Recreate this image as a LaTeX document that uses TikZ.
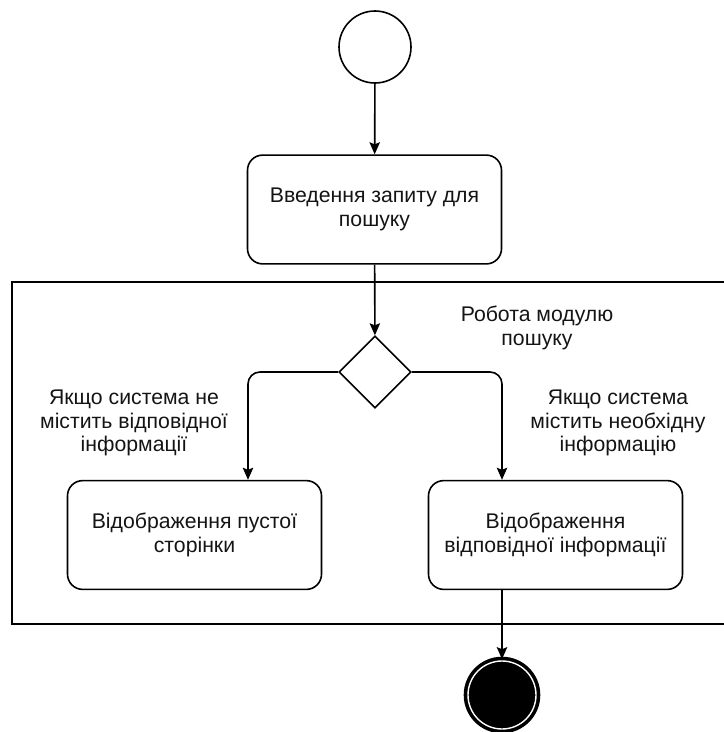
\documentclass[tikz,border=0pt]{standalone}
\usepackage{fontspec}
\setmainfont{Liberation Sans}
\usetikzlibrary{shapes.geometric,arrows.meta}

\definecolor{lineCol}{RGB}{0,0,0}
\definecolor{textCol}{RGB}{20,20,20}

\begin{document}
\begin{tikzpicture}[>={Stealth[length=0.3cm,width=0.26cm,inset=0.05cm]}, line width=0.04cm,
  every node/.style={font=\fontsize{15.1}{16.7}\selectfont, text=textCol},
  action/.style={draw=lineCol, rounded corners=0.38cm, minimum width=6.35cm, minimum height=2.72cm, align=center},
  note/.style={align=center},
  flow/.style={->, draw=lineCol, rounded corners=0.3cm}]
\useasboundingbox (0,0) rectangle (18.1,-18.3);
\node[draw=lineCol, circle, minimum size=1.8cm] (start) at (9.375,-1.175) {};
\node[action] (query) at (9.3625,-5.2375) {Введення запиту для\\пошуку};
% module frame, open on the right
\draw[draw=lineCol] (18.2,-7.05) -- (0.3,-7.05) -- (0.3,-15.6) -- (18.2,-15.6);
\node[note] (module) at (13.425,-8.2) {Робота модулю\\пошуку};
\node[draw=lineCol, diamond, aspect=1, minimum size=1.8cm, inner sep=0pt] (dec) at (9.375,-9.3) {};
\node[note] (noinfo) at (3.35,-10.575) {Якщо система не\\містить відповідної\\інформації};
\node[note] (hasinfo) at (15.45,-10.575) {Якщо система\\містить необхідну\\інформацію};
\node[action] (empty) at (4.8625,-13.375) {Відображення пустої\\сторінки};
\node[action] (show) at (13.8875,-13.375) {Відображення\\відповідної інформації};
\node[circle, fill=black, draw=black, double=white, double distance=0.035cm, line width=0.09cm, minimum size=1.7cm] (end) at (12.55,-17.375) {};
\coordinate (lt) at (6.2,-9.3);
\draw[flow] (start) -- (query);
\draw[flow] (query) -- (dec);
\draw[flow] (dec.west) -| (lt |- empty.north);
\draw[flow] (dec.east) -| (end |- show.north);
\draw[flow] (end |- show.south) -- (end);
\end{tikzpicture}
\end{document}
